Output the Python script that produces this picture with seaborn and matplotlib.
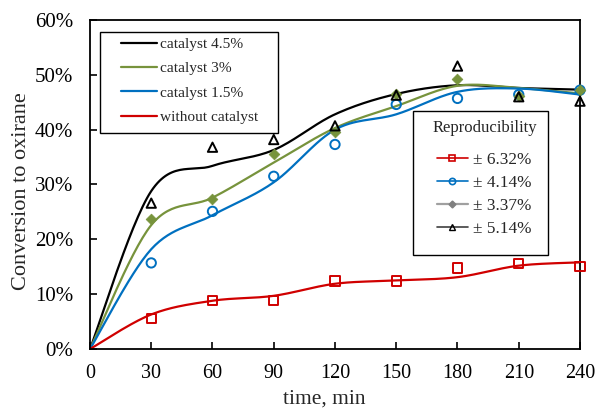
import numpy as np
import pandas as pd
import matplotlib
matplotlib.use("Agg")
import matplotlib.pyplot as plt
from matplotlib.lines import Line2D
from matplotlib.patches import Rectangle
from matplotlib.ticker import FuncFormatter
import seaborn as sns

# ---- data ----
time = [0, 30, 60, 90, 120, 150, 180, 210, 240]
mtime = [30, 60, 90, 120, 150, 180, 210, 240]

# measured points (%)
pts_45 = [26.6, 36.8, 38.2, 40.7, 46.3, 51.6, 46.0, 45.2]
pts_3 = [23.7, 27.4, 35.5, 39.6, 46.5, 49.2, 46.2, 47.2]
pts_15 = [15.7, 25.1, 31.5, 37.3, 44.6, 45.7, 46.4, 47.2]
pts_0 = [5.6, 8.8, 8.8, 12.4, 12.4, 14.8, 15.6, 15.1]

# trend lines (%)
fit_45 = [0, 28.8, 33.4, 36.3, 42.8, 46.5, 48.1, 47.6, 47.3]
fit_3 = [0, 22.6, 27.6, 34.0, 40.3, 44.3, 48.0, 47.6, 46.6]
fit_15 = [0, 18.2, 24.4, 30.4, 40.0, 42.8, 46.9, 47.5, 46.4]
fit_0 = [0, 6.3, 8.8, 9.7, 11.9, 12.5, 13.1, 15.2, 15.8]

line_labels = ["catalyst 4.5%", "catalyst 3%", "catalyst 1.5%", "without catalyst"]
rep_labels = ["\u00b1 6.32%", "\u00b1 4.14%", "\u00b1 3.37%", "\u00b1 5.14%"]

C_BLACK = "#000000"
C_GREEN = "#77933C"
C_BLUE = "#0070C0"
C_RED = "#D00000"


def catmull_rom(x, y, n=30):
    x = np.asarray(x, float)
    y = np.asarray(y, float)
    P = np.column_stack([x, y])
    P = np.vstack([P[0], P, P[-1]])
    out = []
    for i in range(1, len(P) - 2):
        p0, p1, p2, p3 = P[i - 1], P[i], P[i + 1], P[i + 2]
        t = np.linspace(0, 1, n, endpoint=False)[:, None]
        seg = 0.5 * ((2 * p1) + (-p0 + p2) * t + (2 * p0 - 5 * p1 + 4 * p2 - p3) * t ** 2
                     + (-p0 + 3 * p1 - 3 * p2 + p3) * t ** 3)
        out.append(seg)
    out.append(P[-2][None, :])
    S = np.vstack(out)
    return S[:, 0], S[:, 1]


sns.set_theme(style="ticks")
plt.rcParams["font.family"] = ["Liberation Serif", "DejaVu Serif"]

fig = plt.figure(figsize=(5.98, 4.08), dpi=100)
ax = fig.add_axes([0.1505, 0.1446, 0.8194, 0.8064])

pal = {line_labels[0]: C_BLACK, line_labels[1]: C_GREEN, line_labels[2]: C_BLUE, line_labels[3]: C_RED}
for lab, fit in zip(line_labels, [fit_45, fit_3, fit_15, fit_0]):
    sx, sy = catmull_rom(time, fit)
    d = pd.DataFrame({"t": sx, "v": sy})
    sns.lineplot(data=d, x="t", y="v", sort=False, estimator=None, color=pal[lab],
                 lw=1.6, ax=ax, legend=False, zorder=2)

# markers
mk = dict(s=45, linewidths=1.4, zorder=3, ax=ax, legend=False, clip_on=False)
sns.scatterplot(x=mtime, y=pts_0, marker="s", facecolor="none", edgecolor=C_RED, **mk)
sns.scatterplot(x=mtime, y=pts_15, marker="o", facecolor="none", edgecolor=C_BLUE, **mk)
sns.scatterplot(x=mtime, y=pts_3, marker="D", color=C_GREEN, edgecolor=C_GREEN, s=30, linewidths=0.5,
                zorder=3, ax=ax, legend=False, clip_on=False)
sns.scatterplot(x=mtime, y=pts_45, marker="^", facecolor="none", edgecolor=C_BLACK, **mk)

ax.set_xlim(0, 240)
ax.set_ylim(0, 60)
ax.set_xticks(time)
ax.set_yticks(range(0, 61, 10))
ax.yaxis.set_major_formatter(FuncFormatter(lambda v, p: f"{int(v)}%"))
ax.tick_params(direction="in", length=5, width=1.2, colors="black")
ax.tick_params(axis="y", labelsize=15, pad=12)
ax.tick_params(axis="x", labelsize=14.5, pad=11)
for sp in ax.spines.values():
    sp.set_color("black")
    sp.set_linewidth(1.3)
ax.set_xlabel("time, min", fontsize=15.5)
ax.xaxis.set_label_coords(0.478, -0.165)
ax.xaxis.label.set_va("baseline")
ax.set_ylabel("Conversion to oxirane", fontsize=16)
ax.yaxis.set_label_coords(-0.1306, 0.479)
ax.yaxis.label.set_va("baseline")

# legend 1 (frame drawn separately)
ax.add_patch(Rectangle((0.0204, 0.6555), 0.3633, 0.3079, transform=ax.transAxes, fill=True,
                       facecolor="white", edgecolor="black", lw=1.0, zorder=4, clip_on=False))
h1 = [Line2D([], [], color=pal[l], lw=1.6) for l in line_labels]
leg1 = ax.legend(h1, line_labels, loc="upper left", bbox_to_anchor=(0.0633, 0.947), fontsize=11.1,
                 frameon=False, handlelength=2.34, handletextpad=0.2,
                 labelspacing=0.68, borderpad=0, borderaxespad=0)
leg1.set_zorder(5)
ax.add_artist(leg1)

# legend 2
ax.add_patch(Rectangle((0.659, 0.2866), 0.2755, 0.436, transform=ax.transAxes, fill=True,
                       facecolor="white", edgecolor="black", lw=1.0, zorder=4, clip_on=False))
h2 = [Line2D([], [], color=C_RED, marker="s", ms=4.5, mfc="none", mew=1.2, lw=1.2),
      Line2D([], [], color=C_BLUE, marker="o", ms=4.5, mfc="none", mew=1.2, lw=1.2),
      Line2D([], [], color="#A0A0A0", marker="D", ms=3.5, mfc="#808080", mec="#808080", lw=1.6),
      Line2D([], [], color="#404040", marker="^", ms=4.5, mfc="none", mec="black", mew=1.0, lw=1.2)]
leg2 = ax.legend(h2, rep_labels, loc="upper left", bbox_to_anchor=(0.698, 0.697), fontsize=12.4,
                 title="Reproducibility", title_fontsize=12, frameon=False,
                 handlelength=1.8, handletextpad=0.3, labelspacing=0.40,
                 borderpad=0, borderaxespad=0)
leg2._legend_box.sep = 12
leg2.set_zorder(5)

fig.savefig("out.png", dpi=100)
